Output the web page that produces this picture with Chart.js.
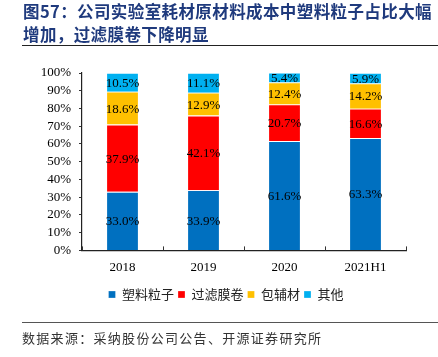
<!DOCTYPE html>
<html><head><meta charset="utf-8">
<script src="https://cdn.jsdelivr.net/npm/chart.js@4"></script>
<style>
html,body{margin:0;padding:0;background:#fff;width:438px;height:357px;overflow:hidden;}
#wrap{position:relative;width:438px;height:357px;}
#title{position:absolute;left:23px;top:0px;width:415px;font-family:"Noto Sans CJK SC";font-weight:bold;font-size:16.5px;line-height:23px;color:#1F3A7D;letter-spacing:0.4px;}
#tline{position:absolute;left:22px;top:45px;width:416px;height:0;border-top:1.5px solid #222;}
#bline{position:absolute;left:22px;top:322px;width:416px;height:0;border-top:1.2px solid #555;}
#src{position:absolute;left:22px;top:328px;font-family:"Noto Sans CJK SC";font-size:13px;color:#333;letter-spacing:1.3px;}
#c{position:absolute;left:0;top:0;}
</style></head>
<body><div id="wrap">
<canvas id="c" width="438" height="357"></canvas>
<div id="title">图57：公司实验室耗材原材料成本中塑料粒子占比大幅<br>增加，过滤膜卷下降明显</div>
<div id="tline"></div>
<div id="bline"></div>
<div id="src">数据来源：采纳股份公司公告、开源证券研究所</div>
</div>
<script>
const categories = ["2018", "2019", "2020", "2021H1"];
const seriesNames = ["塑料粒子", "过滤膜卷", "包辅材", "其他"];
const plastic = [33.0, 33.9, 61.6, 63.3];
const filter = [37.9, 42.1, 20.7, 16.6];
const packaging = [18.6, 12.9, 12.4, 14.2];
const other = [10.5, 11.1, 5.4, 5.9];
const yTicks = [0, 10, 20, 30, 40, 50, 60, 70, 80, 90, 100];
const colors = ["#0070C0", "#FF0000", "#FFC000", "#00B0F0"];

const serif = '"Liberation Serif", "Times New Roman", serif';

const labelPlugin = {
  id: 'labels',
  afterDatasetsDraw(chart) {
    const ctx = chart.ctx;
    ctx.save();
    ctx.font = '13px ' + serif;
    ctx.fillStyle = '#000';
    ctx.textAlign = 'center';
    ctx.textBaseline = 'middle';
    chart.data.datasets.forEach((ds, di) => {
      const meta = chart.getDatasetMeta(di);
      meta.data.forEach((bar, i) => {
        const top = Math.max(bar.y, chart.chartArea.top);
        const yc = (top + bar.base) / 2;
        ctx.fillText(ds.data[i].toFixed(1) + '%', bar.x, yc + 1);
      });
    });
    ctx.restore();
  }
};

const tickPlugin = {
  id: 'xticks',
  afterDraw(chart) {
    const x = chart.scales.x, ctx = chart.ctx, b = chart.chartArea.bottom;
    ctx.save();
    ctx.strokeStyle = '#333';
    ctx.lineWidth = 1;
    for (let i = 0; i <= categories.length; i++) {
      const px = Math.round(x.getPixelForValue(i - 0.5)) + 0.5;
      ctx.beginPath();
      ctx.moveTo(px, b);
      ctx.lineTo(px, b - 4);
      ctx.stroke();
    }
    ctx.restore();
  }
};

const legendShift = {
  id: 'legendShift',
  beforeDraw(chart) {
    const lg = chart.legend;
    if (lg && !lg._shifted) { lg.left += 13; lg.right += 13; lg._shifted = true; }
  }
};

const data = {
  labels: categories,
  datasets: [plastic, filter, packaging, other].map((d, i) => ({
    label: seriesNames[i],
    data: d,
    backgroundColor: colors[i],
    borderColor: 'rgba(255,255,255,0.35)',
    borderWidth: 0.8,
    categoryPercentage: 1.0,
    barPercentage: 0.4
  }))
};

new Chart(document.getElementById('c'), {
  type: 'bar',
  data,
  plugins: [labelPlugin, tickPlugin, legendShift],
  options: {
    responsive: false,
    animation: false,
    devicePixelRatio: 1,
    layout: { padding: { top: 73, right: 32, left: 20, bottom: 46 } },
    plugins: {
      tooltip: { enabled: false },
      legend: {
        position: 'bottom',
        labels: {
          boxWidth: 7, boxHeight: 7, padding: 4,
          color: '#222',
          font: { family: '"Noto Sans CJK SC"', size: 13 }
        }
      }
    },
    scales: {
      x: {
        stacked: true,
        offset: true,
        grid: { display: false, drawTicks: false },
        border: { display: true, color: '#222', width: 1.2 },
        ticks: { color: '#000', padding: 9, font: { family: serif, size: 13 } }
      },
      y: {
        stacked: true,
        min: 0, max: 100,
        afterBuildTicks(s) { s.ticks = yTicks.map(v => ({ value: v })); },
        grid: { drawOnChartArea: false, drawTicks: true, tickLength: 3, color: '#333' },
        border: { display: true, color: '#222', width: 1.2 },
        ticks: { color: '#000', padding: 8, autoSkip: false, font: { family: serif, size: 13 }, callback: v => v + '%' },
        afterFit(s) { s.width = 62; }
      }
    }
  }
});
</script>
</body></html>
